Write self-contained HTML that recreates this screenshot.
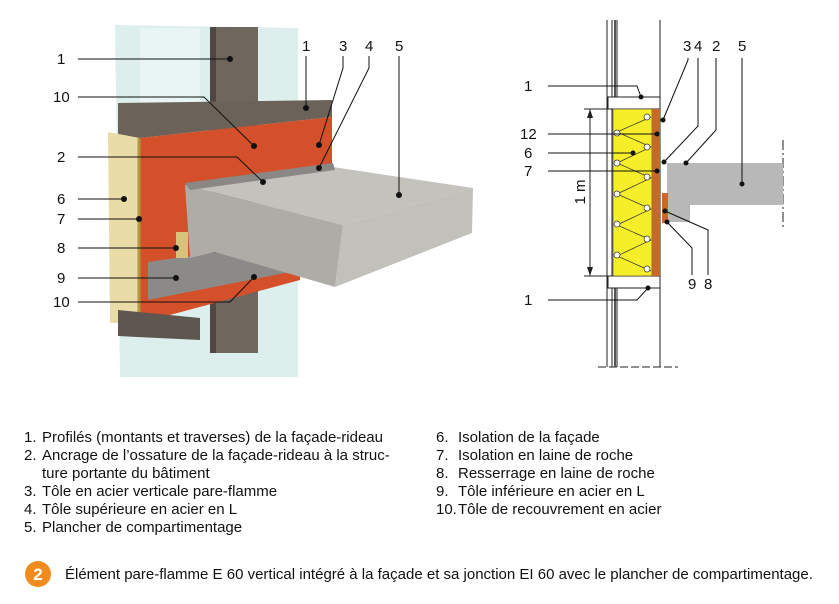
<!DOCTYPE html>
<html><head><meta charset="utf-8"><style>
body{margin:0;background:#fff;width:839px;height:604px;overflow:hidden;font-family:"Liberation Sans",sans-serif;}
svg{position:absolute;left:0;top:0}
.t{font-family:"Liberation Sans",sans-serif;font-size:15px;fill:#111}
.l{stroke:#111;stroke-width:1;fill:none}
</style></head><body>
<svg width="839" height="604" viewBox="0 0 839 604">
<polygon points="115,25 298,28 298,377 120,377" fill="#dcefec"/>
<polygon points="140,28 200,28 200,120 140,120" fill="#e8f5f2"/>
<rect x="210" y="27" width="48" height="326" fill="#6f665e"/>
<rect x="210" y="27" width="6" height="326" fill="#4f4741"/>
<polygon points="118,103 332,100 332,117 140,138 118,138" fill="#6b625a"/>
<polygon points="140,138 332,117 332,165 190,185 190,262 148,300 140,323" fill="#d4502a"/>
<polygon points="140,300 300,270 300,280 140,323" fill="#d4502a"/>
<polygon points="148,262 300,240 300,270 148,300" fill="#8c8a88"/>
<polygon points="108,132 140,138 140,323 110,323" fill="#e9dca6"/>
<line x1="139" y1="138" x2="139" y2="323" stroke="#b09a40" stroke-width="3"/>
<polygon points="118,310 200,318 200,340 118,336" fill="#5e5650"/>
<rect x="176" y="232" width="12" height="26" fill="#d6c27a"/>
<polygon points="185,185 333,167 473,188 343,225" fill="#c4c2bd"/>
<polygon points="185,185 343,225 335,287 215,252 190,258" fill="#aeaca7"/>
<polygon points="343,225 473,188 472,233 335,287" fill="#c2c0bb"/>
<polygon points="185,183 333,163 335,170 190,190" fill="#8a8885"/>
<g class="l">
<polyline points="78,59 230,59"/><polyline points="78,97 204,97 254,146"/>
<polyline points="78,157 237,157 263,182"/><polyline points="78,199 124,199"/>
<polyline points="78,219 139,219"/><polyline points="78,248 176,248"/>
<polyline points="78,278 176,278"/><polyline points="78,302 230,302 254,277"/>
<polyline points="306,56 306,108"/><polyline points="343,56 343,68 319,145"/>
<polyline points="369,56 369,68 319,168"/><polyline points="399,56 399,195"/>
</g>
<g fill="#111">
<circle cx="230" cy="59" r="3"/><circle cx="254" cy="146" r="3"/><circle cx="263" cy="182" r="3"/>
<circle cx="124" cy="199" r="3"/><circle cx="139" cy="219" r="3"/><circle cx="176" cy="248" r="3"/>
<circle cx="176" cy="278" r="3"/><circle cx="254" cy="277" r="3"/><circle cx="306" cy="108" r="3"/>
<circle cx="319" cy="145" r="3"/><circle cx="319" cy="168" r="3"/><circle cx="399" cy="195" r="3"/>
</g>
<g class="t">
<text x="57" y="64">1</text><text x="53" y="102">10</text><text x="57" y="162">2</text>
<text x="57" y="204">6</text><text x="57" y="224">7</text><text x="57" y="253">8</text>
<text x="57" y="283">9</text><text x="53" y="307">10</text>
<text x="302" y="51">1</text><text x="339" y="51">3</text><text x="365" y="51">4</text><text x="395" y="51">5</text>
</g>
<g stroke="#222" stroke-width="1" fill="none">
<line x1="607" y1="20" x2="607" y2="367"/><line x1="612" y1="20" x2="612" y2="367"/>
<line x1="617" y1="20" x2="617" y2="367"/><line x1="660" y1="20" x2="660" y2="367"/>
<line x1="598" y1="367" x2="678" y2="367" stroke-dasharray="8,3"/>
<line x1="783" y1="140" x2="783" y2="230" stroke-dasharray="10,3,2,3"/>
</g>
<rect x="614" y="20" width="2" height="347" fill="#555"/>
<rect x="608" y="97" width="52" height="12" fill="#fff" stroke="#222"/>
<rect x="608" y="276" width="52" height="12" fill="#fff" stroke="#222"/>
<rect x="613" y="109" width="39" height="167" fill="#f7ee2a" stroke="#333" stroke-width="0.6"/>
<rect x="652" y="109" width="8" height="167" fill="#c8682a"/>
<polyline points="651,117 617,132 651,147 617,163 651,178 617,194 651,209 617,225 651,240 617,256 651,271" fill="none" stroke="#333" stroke-width="0.7"/>
<g fill="#fff" stroke="#333" stroke-width="0.7">
<circle cx="647" cy="117" r="3"/><circle cx="617" cy="133" r="3"/><circle cx="647" cy="147" r="3"/><circle cx="617" cy="163" r="3"/><circle cx="647" cy="177" r="3"/><circle cx="617" cy="194" r="3"/><circle cx="647" cy="208" r="3"/><circle cx="617" cy="224" r="3"/><circle cx="647" cy="239" r="3"/><circle cx="617" cy="255" r="3"/><circle cx="647" cy="269" r="3"/>
</g>
<polygon points="667,163 783,163 783,205 690,205 690,222 667,222" fill="#b8b8b8"/>
<rect x="662" y="193" width="6" height="30" fill="#c8682a"/>
<line x1="590" y1="109" x2="590" y2="276" stroke="#222"/>
<line x1="584" y1="109" x2="612" y2="109" stroke="#222"/><line x1="584" y1="276" x2="612" y2="276" stroke="#222"/>
<polygon points="590,109 587,118 593,118" fill="#222"/><polygon points="590,276 587,267 593,267" fill="#222"/>
<text class="t" transform="translate(585,192) rotate(-90)" text-anchor="middle">1 m</text>
<g class="l">
<polyline points="548,86 637,86 641,97"/><polyline points="548,134 657,134"/>
<polyline points="548,153 633,153"/><polyline points="548,171 657,171"/>
<polyline points="548,300 637,300 648,288"/>
<polyline points="688,58 688,60 663,120"/><polyline points="698,58 698,126 664,162"/>
<polyline points="716,58 716,130 686,163"/><polyline points="742,58 742,184"/>
<polyline points="692,275 692,248 667,222"/><polyline points="708,275 708,230 665,211"/>
</g>
<g fill="#111">
<circle cx="641" cy="97" r="2.5"/><circle cx="657" cy="134" r="2.5"/><circle cx="633" cy="153" r="2.5"/>
<circle cx="657" cy="171" r="2.5"/><circle cx="648" cy="288" r="2.5"/><circle cx="663" cy="120" r="2.5"/>
<circle cx="664" cy="162" r="2.5"/><circle cx="686" cy="163" r="2.5"/><circle cx="742" cy="184" r="2.5"/>
<circle cx="667" cy="222" r="2.5"/><circle cx="665" cy="211" r="2.5"/>
</g>
<g class="t">
<text x="524" y="91">1</text><text x="520" y="139">12</text><text x="524" y="158">6</text>
<text x="524" y="176">7</text><text x="524" y="305">1</text>
<text x="683" y="51">3</text><text x="694" y="51">4</text><text x="712" y="51">2</text><text x="738" y="51">5</text>
<text x="688" y="289">9</text><text x="704" y="289">8</text>
</g>
<g class="t">
<text x="24" y="442">1.</text><text x="42" y="442">Profilés (montants et traverses) de la façade-rideau</text>
<text x="24" y="460">2.</text><text x="42" y="460">Ancrage de l’ossature de la façade-rideau à la struc-</text>
<text x="42" y="478">ture portante du bâtiment</text>
<text x="24" y="496">3.</text><text x="42" y="496">Tôle en acier verticale pare-flamme</text>
<text x="24" y="514">4.</text><text x="42" y="514">Tôle supérieure en acier en L</text>
<text x="24" y="532">5.</text><text x="42" y="532">Plancher de compartimentage</text>
<text x="436" y="442">6.</text><text x="458" y="442">Isolation de la façade</text>
<text x="436" y="460">7.</text><text x="458" y="460">Isolation en laine de roche</text>
<text x="436" y="478">8.</text><text x="458" y="478">Resserrage en laine de roche</text>
<text x="436" y="496">9.</text><text x="458" y="496">Tôle inférieure en acier en L</text>
<text x="436" y="514">10.</text><text x="458" y="514">Tôle de recouvrement en acier</text>
</g>
<circle cx="38" cy="574" r="13" fill="#f08c1e"/>
<text x="38" y="580" text-anchor="middle" style="font-family:'Liberation Sans',sans-serif;font-size:17px;font-weight:bold;fill:#fff">2</text>
<text class="t" x="65" y="579">Élément pare-flamme E 60 vertical intégré à la façade et sa jonction EI 60 avec le plancher de compartimentage.</text>
</svg>
</body></html>
